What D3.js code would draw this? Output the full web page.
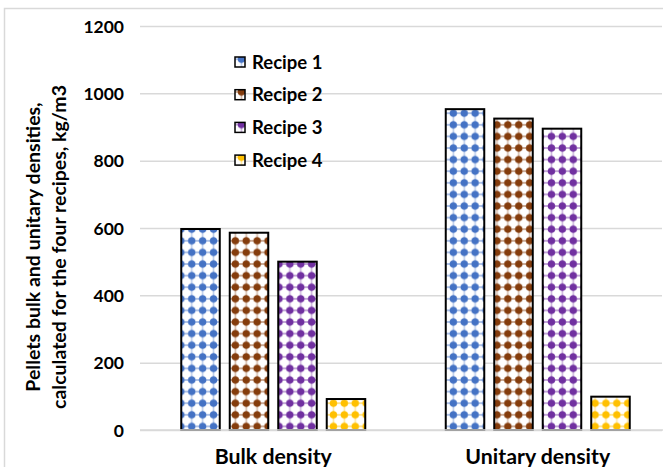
<!DOCTYPE html>
<html>
<head>
<meta charset="utf-8">
<script src="https://cdn.jsdelivr.net/npm/d3@7"></script>
<style>
  html, body { margin: 0; padding: 0; background: #fff; }
  svg { display: block; font-family: Lato, "Open Sans", sans-serif; }
</style>
</head>
<body>
<svg id="chart" width="663" height="467"></svg>
<script>
// Pellet densities (kg/m3) for four recipes
const categories = ["Bulk density", "Unitary density"];
const recipes = ["Recipe 1", "Recipe 2", "Recipe 3", "Recipe 4"];
const recipe1 = [597, 953];
const recipe2 = [586, 925];
const recipe3 = [500, 895];
const recipe4 = [92, 99];
const yTicks = [0, 200, 400, 600, 800, 1000, 1200];
const colors = ["#4472C4", "#843C0C", "#7030A0", "#FFC000"];

const seriesValues = [recipe1, recipe2, recipe3, recipe4];

const svg = d3.select("#chart");
const W = 663, H = 467;

// chart frame (top and left edge of the chart area)
svg.append("path")
  .attr("d", `M4.5,${H} L4.5,8.5 L${W},8.5`)
  .attr("fill", "none").attr("stroke", "#d9d9d9").attr("stroke-width", 1.5);

const plot = { left: 141, right: 670, top: 26, bottom: 430 };

const y = d3.scaleLinear().domain([0, 1200]).range([plot.bottom, plot.top]);
const x0 = d3.scaleBand().domain(categories).range([plot.left, plot.right]);
const x1 = d3.scaleBand().domain(recipes).range([0, x0.bandwidth()])
  .paddingInner(0.206).paddingOuter(0.83);

// dotted fill patterns, one per recipe
const defs = svg.append("defs");
recipes.forEach((r, i) => {
  const sw = 10.9, sh = 11.6;
  const p = defs.append("pattern")
    .attr("id", "pat" + i)
    .attr("patternUnits", "userSpaceOnUse")
    .attr("width", sw).attr("height", sh)
    .attr("x", 1).attr("y", 3);
  p.append("rect").attr("width", sw).attr("height", sh).attr("fill", "#fff");
  const cx = sw / 2, cy = sh / 2;
  p.append("path")
    .attr("d", `M${cx - 5.4},${cy} H${cx + 5.4} M${cx},${cy - 5.6} V${cy + 5.6}`)
    .attr("stroke", colors[i]).attr("stroke-width", 1.7).attr("opacity", 0.45);
  p.append("circle").attr("cx", cx).attr("cy", cy).attr("r", 3.7).attr("fill", colors[i]);
});

// gridlines and value labels
const axisY = d3.axisLeft(y).tickValues(yTicks).tickSize(-(W - plot.left)).tickFormat(d3.format("d"));
const gy = svg.append("g").attr("transform", `translate(${plot.left - 1},0)`).call(axisY);
gy.select(".domain").remove();
gy.selectAll(".tick line").attr("stroke", "#d9d9d9").attr("stroke-width", 1.5);
gy.selectAll(".tick text")
  .attr("x", -16).attr("dy", "0.35em")
  .attr("font-size", 17.5).attr("font-weight", 700).attr("fill", "#000")
  .attr("font-family", "Lato, sans-serif");

// bars
categories.forEach((cat, ci) => {
  seriesValues.forEach((vals, si) => {
    svg.append("rect")
      .attr("x", x0(cat) + x1(recipes[si]))
      .attr("y", y(vals[ci]))
      .attr("width", x1.bandwidth())
      .attr("height", y(0) - y(vals[ci]))
      .attr("fill", `url(#pat${si})`)
      .attr("stroke", "#000").attr("stroke-width", 2);
  });
});

// zero line over bar bottoms
svg.append("line")
  .attr("x1", plot.left - 1).attr("x2", W)
  .attr("y1", y(0)).attr("y2", y(0))
  .attr("stroke", "#d9d9d9").attr("stroke-width", 1.5);

// category labels
const xAxis = d3.axisBottom(x0).tickSize(0).tickPadding(0);
const gx = svg.append("g").attr("transform", `translate(0,${y(0)})`).call(xAxis);
gx.select(".domain").remove();
gx.selectAll(".tick text")
  .attr("y", 34).attr("dy", 0)
  .attr("font-size", 21.3).attr("font-weight", 700).attr("fill", "#000")
  .attr("font-family", "Lato, sans-serif");

// y-axis title
const title = svg.append("text")
  .attr("transform", `translate(0,247) rotate(-90)`)
  .attr("text-anchor", "middle")
  .attr("font-size", 19.5).attr("font-weight", 700).attr("fill", "#000");
title.append("tspan").attr("x", 0).attr("y", 40).text("Pellets bulk and unitary densities,");
title.append("tspan").attr("x", 0).attr("y", 66).text("calculated for the four recipes, kg/m3");

// legend
const legend = svg.append("g").attr("transform", "translate(235,62)");
recipes.forEach((r, i) => {
  const g = legend.append("g").attr("transform", `translate(0,${i * 32.7})`);
  g.append("rect").attr("x", 0).attr("y", -5).attr("width", 10).attr("height", 10)
    .attr("fill", `url(#pat${i})`).attr("stroke", "#000").attr("stroke-width", 1.5);
  g.append("text").attr("x", 17).attr("y", 0).attr("dy", "0.36em")
    .attr("font-size", 18.5).attr("font-weight", 700).attr("fill", "#000").text(r);
});
</script>
</body>
</html>
